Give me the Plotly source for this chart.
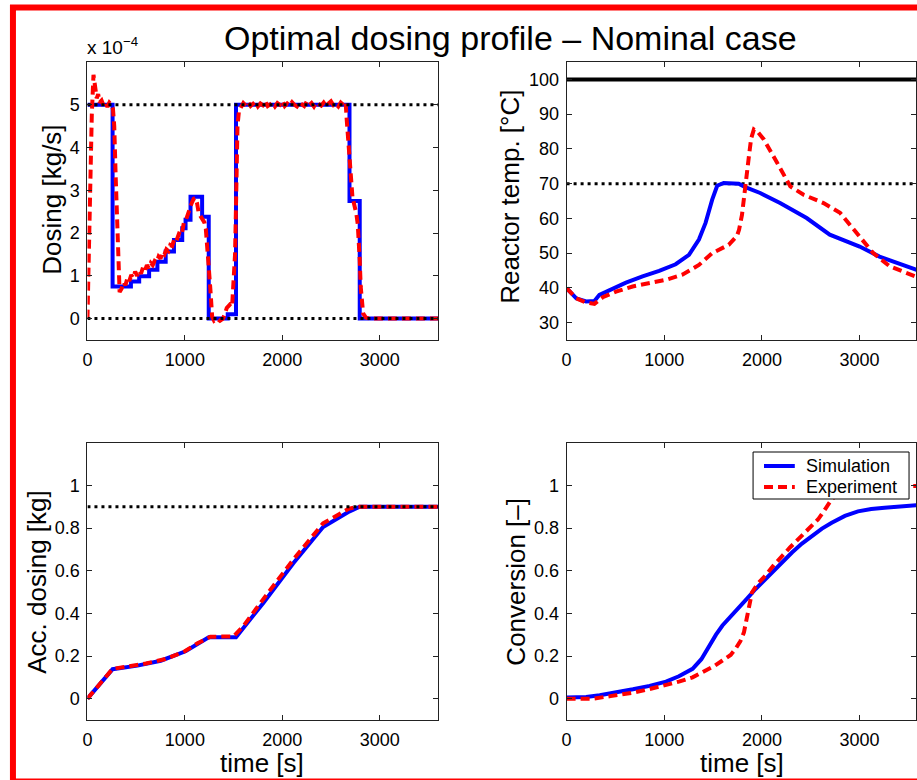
import plotly.graph_objects as go

# ---------------- data ----------------
# Dosing [x 1e-4 kg/s]
sim_dose_t = [0, 258, 446, 531, 633, 718, 803, 888, 973, 1007, 1058, 1177, 1245, 1440, 1525, 2690, 2795, 3600]
sim_dose_v = [5.0, 0.75, 0.87, 0.99, 1.14, 1.33, 1.57, 1.84, 2.11, 2.31, 2.85, 2.38, 0.0, 0.1, 5.0, 2.75, 0.0, 0.0]

exp_dose = [
    (0, 0.0), (25, 2.8), (45, 4.8), (62, 5.7), (80, 5.3), (95, 5.15), (110, 5.25), (125, 5.05),
    (145, 5.1), (165, 4.98), (185, 5.05), (205, 4.95), (225, 5.05), (245, 5.0), (262, 4.9),
    (275, 4.5), (290, 3.3), (305, 2.0), (318, 1.0), (330, 0.62), (350, 0.7), (370, 0.85),
    (390, 0.78), (410, 0.95), (430, 0.88), (450, 1.02), (470, 0.95), (490, 1.1), (510, 1.0),
    (530, 1.12), (550, 1.05), (570, 1.2), (590, 1.12), (610, 1.25), (630, 1.18), (650, 1.3),
    (670, 1.25), (690, 1.35), (710, 1.32), (730, 1.45), (750, 1.4), (770, 1.55), (790, 1.5),
    (810, 1.62), (830, 1.58), (850, 1.72), (870, 1.7), (890, 1.85), (910, 1.8), (930, 1.95),
    (950, 2.05), (970, 2.0), (990, 2.25), (1010, 2.3), (1030, 2.45), (1050, 2.55), (1070, 2.7),
    (1090, 2.8), (1110, 2.82), (1125, 2.7), (1140, 2.5), (1160, 2.4), (1180, 2.3), (1200, 2.25),
    (1215, 2.1), (1230, 1.75), (1245, 1.2), (1262, 0.68), (1280, 0.05), (1300, -0.05),
    (1330, 0.0), (1360, -0.05), (1390, 0.0), (1410, 0.1), (1430, 0.25), (1450, 0.3),
    (1470, 0.35), (1485, 0.3), (1500, 0.9), (1515, 1.5), (1528, 3.0), (1540, 4.5), (1555, 4.85),
    (1575, 4.95), (1600, 5.04), (1625, 4.98), (1650, 5.06), (1675, 4.97), (1700, 5.02),
    (1725, 5.07), (1750, 4.96), (1775, 5.03), (1800, 4.99), (1825, 5.08), (1850, 4.97),
    (1875, 5.01), (1900, 5.05), (1925, 4.96), (1950, 5.04), (1975, 5.0), (2000, 5.09),
    (2025, 4.97), (2050, 5.03), (2075, 4.98), (2100, 5.06), (2125, 5.0), (2150, 4.96),
    (2175, 5.05), (2200, 5.02), (2225, 4.97), (2250, 5.07), (2275, 4.99), (2300, 5.04),
    (2325, 4.96), (2350, 5.06), (2375, 5.01), (2400, 4.98), (2425, 5.05), (2450, 4.97),
    (2475, 5.03), (2500, 5.08), (2525, 4.99), (2550, 5.02), (2575, 4.96), (2600, 5.05),
    (2625, 5.0), (2650, 5.06), (2660, 4.7), (2675, 4.25), (2690, 3.7), (2705, 3.28),
    (2720, 2.85), (2740, 2.65), (2760, 2.46), (2775, 2.2), (2785, 1.9), (2795, 1.37),
    (2805, 0.75), (2815, 0.35), (2830, 0.12), (2860, 0.02), (2900, 0.0), (3600, 0.0),
]
exp_dose_t = [p[0] for p in exp_dose]
exp_dose_v = [p[1] for p in exp_dose]

dose_max = 5.0
dose_min = 0.0

# Reactor temperature [°C]
sim_temp_t = [0, 99, 200, 285, 336, 438, 608, 778, 948, 1117, 1253, 1355, 1423, 1491, 1542, 1609,
              1700, 1762, 1830, 1982, 2186, 2458, 2695, 2831, 3001, 3204, 3408, 3600]
sim_temp_v = [39.9, 37.0, 36.1, 36.2, 38.0, 39.4, 41.5, 43.3, 44.9, 46.8, 49.5, 53.9, 58.7, 65.4,
              69.4, 70.2, 70.2, 70.0, 69.0, 67.3, 64.4, 60.1, 55.3, 53.9, 51.9, 49.0, 47.1, 45.0]
exp_temp_t = [0, 99, 200, 285, 370, 506, 676, 845, 1015, 1185, 1355, 1491, 1660, 1745, 1766, 1796,
              1817, 1845, 1867, 1890, 1918, 1960, 2020, 2156, 2291, 2427, 2631, 2800, 2970, 3140,
              3309, 3446, 3600]
exp_temp_v = [39.9, 37.0, 35.8, 35.4, 37.3, 38.9, 40.4, 41.4, 42.3, 43.8, 46.6, 50.0, 52.4, 55.0,
              56.7, 61.0, 65.4, 72.0, 77.9, 83.0, 85.6, 84.8, 82.7, 76.0, 69.2, 66.8, 64.4, 61.6,
              55.8, 50.0, 46.2, 44.7, 43.0]
temp_max = 100
temp_limit = 70

# Accumulated dosing [kg]
sim_acc_t = [0, 258, 513, 752, 1007, 1130, 1245, 1525, 1807, 2113, 2419, 2691, 2795, 3600]
sim_acc_v = [0.0, 0.138, 0.155, 0.178, 0.222, 0.258, 0.288, 0.288, 0.45, 0.635, 0.805, 0.878, 0.9, 0.9]
exp_acc_t = [0, 258, 400, 600, 800, 1000, 1130, 1262, 1500, 1600, 1807, 2113, 2419, 2680, 2770, 3600]
exp_acc_v = [0.0, 0.14, 0.15, 0.165, 0.186, 0.222, 0.26, 0.29, 0.292, 0.34, 0.468, 0.652, 0.822,
             0.89, 0.9, 0.9]
acc_target = 0.9

# Conversion [-]
sim_conv_t = [0, 200, 339, 500, 679, 850, 1018, 1150, 1290, 1380, 1460, 1530, 1596, 1680, 1765,
              1850, 1935, 2020, 2105, 2200, 2308, 2410, 2512, 2615, 2715, 2850, 2984, 3120, 3256,
              3400, 3600]
sim_conv_v = [0.005, 0.008, 0.016, 0.028, 0.044, 0.06, 0.08, 0.105, 0.14, 0.185, 0.25, 0.3, 0.343,
              0.385, 0.421, 0.47, 0.514, 0.553, 0.592, 0.64, 0.685, 0.727, 0.763, 0.797, 0.825,
              0.857, 0.878, 0.889, 0.895, 0.901, 0.908]
exp_conv_t = [0, 268, 450, 679, 850, 1018, 1150, 1290, 1426, 1520, 1596, 1680, 1731, 1780, 1816,
              1845, 1867, 1898, 1960, 2034, 2120, 2204, 2290, 2373, 2476, 2576, 2650, 2715, 2780,
              2848, 2920, 3100, 3300, 3600]
exp_conv_v = [0.0, 0.0, 0.012, 0.028, 0.045, 0.062, 0.08, 0.1, 0.132, 0.155, 0.179, 0.205, 0.234,
              0.27, 0.311, 0.37, 0.42, 0.498, 0.54, 0.576, 0.625, 0.67, 0.71, 0.748, 0.795, 0.841,
              0.89, 0.935, 0.962, 0.981, 0.99, 0.995, 0.996, 0.997]

series_names = ["Simulation", "Experiment"]

time_ticks = [0, 1000, 2000, 3000]
dose_ticks = [0, 1, 2, 3, 4, 5]
temp_ticks = [30, 40, 50, 60, 70, 80, 90, 100]
frac_ticks = [0, 0.2, 0.4, 0.6, 0.8, 1]
frac_ticklabels = ["0", "0.2", "0.4", "0.6", "0.8", "1"]

# ---------------- layout helpers ----------------
W, H = 917, 780
FONT = "Liberation Sans, Arial, Helvetica, sans-serif"


def px(x):
    return x / W


def py(y):
    return 1 - y / H


BLUE = "#0000ff"
RED = "#ff0000"
EXP_DASH = "9px,5px"
SIM = dict(color=BLUE, width=4)
EXP = dict(color=RED, width=4, dash=EXP_DASH)
DOT = dict(color="black", width=3, dash="3px,4px")

fig = go.Figure()


def add(x, y, line, ax, name=None, shape="linear"):
    fig.add_trace(go.Scatter(x=x, y=y, mode="lines", line=dict(shape=shape, **line),
                             xaxis="x" + ax, yaxis="y" + ax, name=name,
                             showlegend=False, hoverinfo="skip"))


t_span = [time_ticks[0], 3600]

# top-left : dosing
add(sim_dose_t, sim_dose_v, SIM, "", shape="hv")
add(exp_dose_t, exp_dose_v, EXP, "")
add(t_span, [dose_max, dose_max], DOT, "")
add(t_span, [dose_min, dose_min], DOT, "")

# top-right : temperature
add(t_span, [temp_max, temp_max], dict(color="black", width=4), "2")
add(t_span, [temp_limit, temp_limit], DOT, "2")
add(sim_temp_t, sim_temp_v, SIM, "2")
add(exp_temp_t, exp_temp_v, EXP, "2")

# bottom-left : accumulated dosing
add(sim_acc_t, sim_acc_v, SIM, "3")
add(exp_acc_t, exp_acc_v, EXP, "3")
add(t_span, [acc_target, acc_target], DOT, "3")

# bottom-right : conversion
add(sim_conv_t, sim_conv_v, SIM, "4", name=series_names[0])
add(exp_conv_t, exp_conv_v, EXP, "4", name=series_names[1])

AXC = "#222222"
tickfont = dict(family=FONT, size=18, color="black")


def xax(domain, anchor, rng):
    return dict(domain=domain, anchor=anchor, range=rng, tickvals=time_ticks,
                ticktext=[str(v) for v in time_ticks], ticks="inside", ticklen=5,
                tickcolor=AXC, showline=True, linecolor=AXC, linewidth=1, mirror="ticks",
                showgrid=False, zeroline=False, tickfont=tickfont, ticklabelstandoff=3,
                fixedrange=True)


def yax(domain, anchor, rng, vals, text):
    return dict(domain=domain, anchor=anchor, range=rng, tickvals=vals, ticktext=text,
                ticks="inside", ticklen=5, tickcolor=AXC, showline=True, linecolor=AXC,
                linewidth=1, mirror="ticks", showgrid=False, zeroline=False,
                tickfont=tickfont, ticklabelstandoff=3, fixedrange=True)


Ld = [px(83), px(436)]
Rd = [px(565.3), 1.0]
Td = [py(340), py(62)]
Bd = [py(720), py(442.7)]
r_right = [0, 3578]

fig.update_layout(
    width=W, height=H, margin=dict(l=0, r=0, t=0, b=0),
    paper_bgcolor="white", plot_bgcolor="white",
    font=dict(family=FONT, color="black"),
    xaxis=xax(Ld, "y", [0, 3600]),
    yaxis=yax(Td, "x", [-0.5, 6], dose_ticks, [str(v) for v in dose_ticks]),
    xaxis2=xax(Rd, "y2", r_right),
    yaxis2=yax(Td, "x2", [25, 105], temp_ticks, [str(v) for v in temp_ticks]),
    xaxis3=xax(Ld, "y3", [0, 3600]),
    yaxis3=yax(Bd, "x3", [-0.1, 1.2], frac_ticks, frac_ticklabels),
    xaxis4=xax(Rd, "y4", r_right),
    yaxis4=yax(Bd, "x4", [-0.1, 1.2], frac_ticks, frac_ticklabels),
    showlegend=False,
)

title_font = dict(family=FONT, size=34, color="black")
lab_font = dict(family=FONT, size=26, color="black")
leg_font = dict(family=FONT, size=18, color="black")
ann = [
    dict(text="Optimal dosing profile \u2013 Nominal case", x=px(509), y=py(38),
         font=title_font, xanchor="center", yanchor="middle"),
    dict(text="x 10<sup>\u22124</sup>", x=px(81), y=py(46), font=dict(family=FONT, size=19, color="black"),
         xanchor="left", yanchor="middle"),
    dict(text="Dosing [kg/s]", x=px(47), y=py(200), textangle=-90, font=lab_font,
         xanchor="center", yanchor="middle"),
    dict(text="Reactor temp. [\u00b0C]", x=px(508), y=py(197), textangle=-90, font=lab_font,
         xanchor="center", yanchor="middle"),
    dict(text="Acc. dosing [kg]", x=px(32), y=py(582), textangle=-90, font=lab_font,
         xanchor="center", yanchor="middle"),
    dict(text="Conversion [\u2013]", x=px(514), y=py(582), textangle=-90, font=lab_font,
         xanchor="center", yanchor="middle"),
    dict(text="time [s]", x=px(259), y=py(763), font=lab_font, xanchor="center", yanchor="middle"),
    dict(text="time [s]", x=px(742), y=py(763), font=lab_font, xanchor="center", yanchor="middle"),
    # legend entries
    dict(text=series_names[0], x=px(804), y=py(466), font=leg_font, xanchor="left", yanchor="middle"),
    dict(text=series_names[1], x=px(804), y=py(487), font=leg_font, xanchor="left", yanchor="middle"),
]
for a in ann:
    a.update(xref="paper", yref="paper", showarrow=False)
fig.update_layout(annotations=ann)

# legend box and line samples
fig.add_shape(type="rect", xref="paper", yref="paper", x0=px(753), x1=px(910), y0=py(499), y1=py(452),
              line=dict(color="black", width=1), fillcolor="white", layer="above")
fig.add_shape(type="line", xref="paper", yref="paper", x0=px(764), x1=px(795), y0=py(466), y1=py(466),
              line=dict(color=BLUE, width=4), layer="above")
fig.add_shape(type="line", xref="paper", yref="paper", x0=px(764), x1=px(795), y0=py(487), y1=py(487),
              line=dict(color=RED, width=4, dash=EXP_DASH), layer="above")

# red frame around the figure
fig.add_shape(type="rect", xref="paper", yref="paper", x0=px(8), y0=py(781.5), x1=1.05, y1=py(7.5),
              line=dict(color=RED, width=6), fillcolor="rgba(0,0,0,0)", layer="above")

fig.write_html("out.html", config={"displayModeBar": False})
